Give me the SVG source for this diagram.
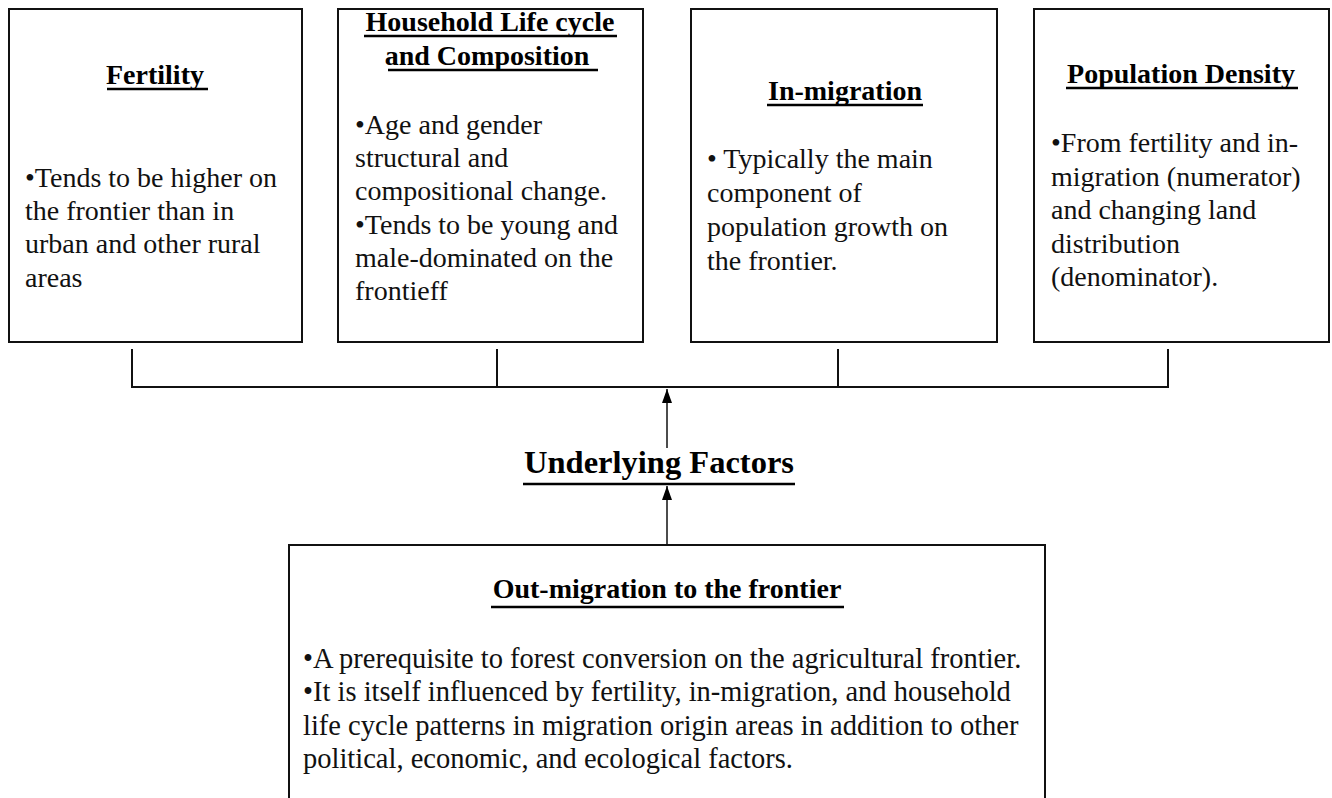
<svg xmlns="http://www.w3.org/2000/svg" width="1332" height="798" viewBox="0 0 1332 798" font-family="Liberation Serif, serif">
<style>
.box{fill:#fff;stroke:#111;stroke-width:2}
.t{font-weight:bold;font-size:28px;fill:#000;text-anchor:middle}
.b{font-size:28px;fill:#111}
.bb{font-size:28.5px;fill:#111}
.u{stroke:#000;stroke-width:2.5}
.c{fill:none;stroke:#111;stroke-width:2}
</style>
<defs>
<marker id="ah" markerWidth="14" markerHeight="10" refX="14" refY="5" orient="auto" markerUnits="userSpaceOnUse" viewBox="0 0 14 10">
<path d="M0 0 L14 5 L0 10 Z" fill="#000"/>
</marker>
</defs>
<rect width="1332" height="798" fill="#fff"/>
<g id="fertility">
<rect class="box" x="9" y="9" width="293" height="333"/>
<text class="t" x="155" y="84">Fertility</text>
<line class="u" x1="107" y1="89" x2="208" y2="89"/>
<text class="b" x="25" y="187">•Tends to be higher on</text>
<text class="b" x="25" y="220">the frontier than in</text>
<text class="b" x="25" y="253">urban and other rural</text>
<text class="b" x="25" y="287">areas</text>
</g>
<g id="household">
<rect class="box" x="338" y="9" width="305" height="333"/>
<text class="t" x="490" y="31">Household Life cycle</text>
<line class="u" x1="364" y1="36" x2="617" y2="36"/>
<text class="t" x="487" y="65">and Composition</text>
<line class="u" x1="388" y1="70" x2="598" y2="70"/>
<text class="b" x="355" y="134">•Age and gender</text>
<text class="b" x="355" y="167">structural and</text>
<text class="b" x="355" y="200">compositional change.</text>
<text class="b" x="355" y="234">•Tends to be young and</text>
<text class="b" x="355" y="267">male-dominated on the</text>
<text class="b" x="355" y="300">frontieff</text>
</g>
<g id="inmigration">
<rect class="box" x="691" y="9" width="306" height="333"/>
<text class="t" x="845" y="100">In-migration</text>
<line class="u" x1="767" y1="105" x2="923" y2="105"/>
<text class="b" x="707" y="168">• Typically the main</text>
<text class="b" x="707" y="202">component of</text>
<text class="b" x="707" y="236">population growth on</text>
<text class="b" x="707" y="270">the frontier.</text>
</g>
<g id="density">
<rect class="box" x="1034" y="9" width="295" height="333"/>
<text class="t" x="1181" y="83">Population Density</text>
<line class="u" x1="1066" y1="88" x2="1298" y2="88"/>
<text class="b" x="1051" y="152">•From fertility and in-</text>
<text class="b" x="1051" y="186">migration (numerator)</text>
<text class="b" x="1051" y="219">and changing land</text>
<text class="b" x="1051" y="253">distribution</text>
<text class="b" x="1051" y="286">(denominator).</text>
</g>
<g id="underlying">
<text class="t" x="659" y="473" style="font-size:32.5px">Underlying Factors</text>
<line class="u" x1="523" y1="484" x2="795" y2="484"/>
</g>
<g id="outmigration">
<rect class="box" x="289" y="545" width="756" height="270"/>
<text class="t" x="667" y="598">Out-migration to the frontier</text>
<line class="u" x1="491" y1="607" x2="844" y2="607"/>
<text class="bb" x="303" y="668">•A prerequisite to forest conversion on the agricultural frontier.</text>
<text class="bb" x="303" y="701">•It is itself influenced by fertility, in-migration, and household</text>
<text class="bb" x="303" y="735">life cycle patterns in migration origin areas in addition to other</text>
<text class="bb" x="303" y="768">political, economic, and ecological factors.</text>
</g>
<g id="connectors">
<polyline class="c" points="132,349 132,387 1168,387 1168,349"/>
<line class="c" x1="497" y1="349" x2="497" y2="387"/>
<line class="c" x1="838" y1="349" x2="838" y2="387"/>
<line class="c" x1="667" y1="448" x2="667" y2="389" marker-end="url(#ah)" style="stroke-width:1.5"/>
<line class="c" x1="667" y1="545" x2="667" y2="486" marker-end="url(#ah)" style="stroke-width:1.5"/>
</g>
</svg>
